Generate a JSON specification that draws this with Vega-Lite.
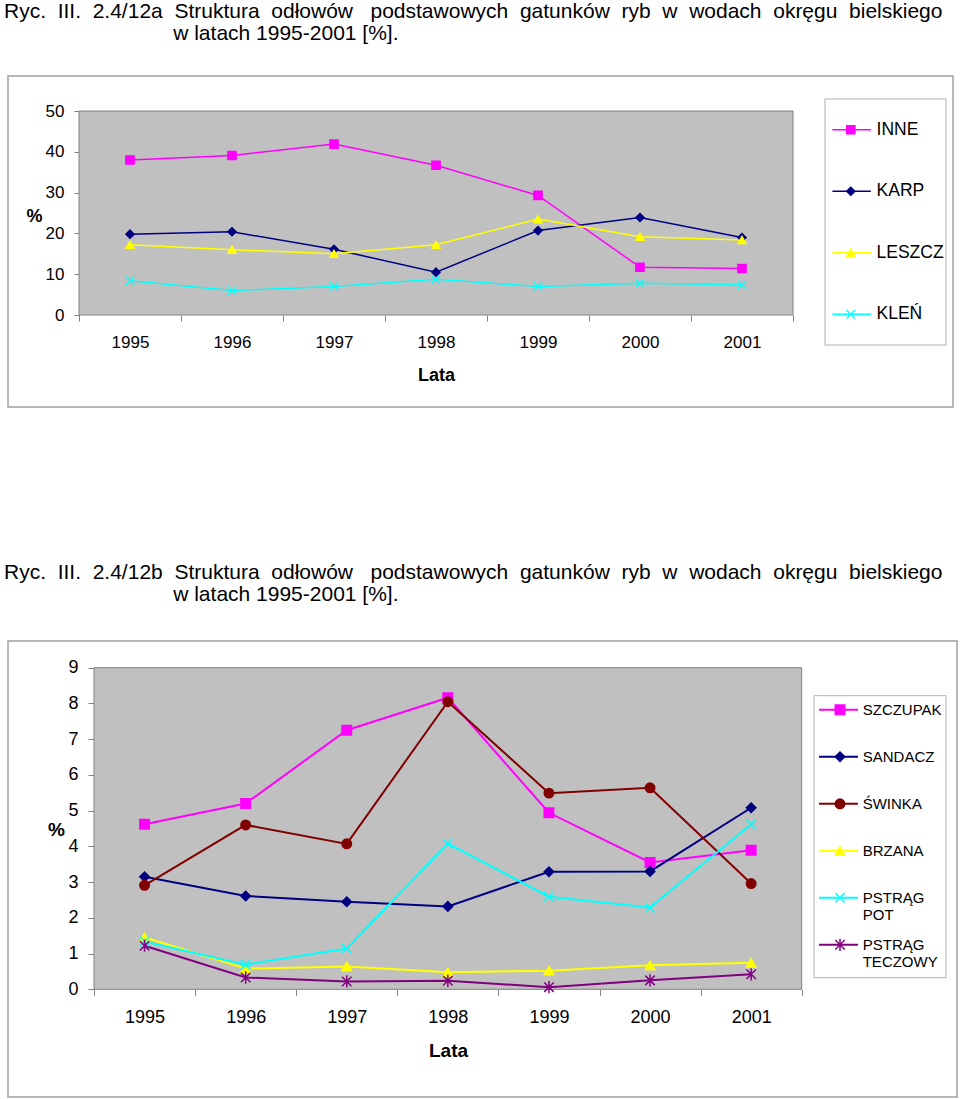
{
  "$schema": "https://vega.github.io/schema/vega-lite/v6.json",
  "padding": {"left": 3, "top": 0, "right": 0, "bottom": 0},
  "spacing": 153,
  "resolve": {"scale": {"color": "independent", "shape": "independent", "fill": "independent", "stroke": "independent"}},
  "config": {
    "font": "Liberation Sans",
    "view": {"stroke": "#a0a0a0", "strokeWidth": 1.5, "fill": "white"},
    "axis": {"labelFont": "Liberation Sans", "titleFont": "Liberation Sans", "labelColor": "black", "titleColor": "black", "grid": false, "domain": false, "tickColor": "#808080"},
    "title": {"anchor": "start", "fontSize": 21, "fontWeight": "normal", "font": "Liberation Sans", "color": "black", "lineHeight": 22, "dx": -4, "offset": 32, "baseline": "bottom"}
  },
  "datasets": {
    "a": [
      {"year": 1995, "series": "INNE", "value": 38.0}, {"year": 1996, "series": "INNE", "value": 39.1}, {"year": 1997, "series": "INNE", "value": 41.9}, {"year": 1998, "series": "INNE", "value": 36.7}, {"year": 1999, "series": "INNE", "value": 29.3}, {"year": 2000, "series": "INNE", "value": 11.7}, {"year": 2001, "series": "INNE", "value": 11.4},
      {"year": 1995, "series": "KARP", "value": 19.8}, {"year": 1996, "series": "KARP", "value": 20.4}, {"year": 1997, "series": "KARP", "value": 16.1}, {"year": 1998, "series": "KARP", "value": 10.5}, {"year": 1999, "series": "KARP", "value": 20.7}, {"year": 2000, "series": "KARP", "value": 23.9}, {"year": 2001, "series": "KARP", "value": 19.0},
      {"year": 1995, "series": "LESZCZ", "value": 17.2}, {"year": 1996, "series": "LESZCZ", "value": 16.0}, {"year": 1997, "series": "LESZCZ", "value": 15.0}, {"year": 1998, "series": "LESZCZ", "value": 17.2}, {"year": 1999, "series": "LESZCZ", "value": 23.5}, {"year": 2000, "series": "LESZCZ", "value": 19.2}, {"year": 2001, "series": "LESZCZ", "value": 18.4},
      {"year": 1995, "series": "KLEŃ", "value": 8.4}, {"year": 1996, "series": "KLEŃ", "value": 6.0}, {"year": 1997, "series": "KLEŃ", "value": 7.0}, {"year": 1998, "series": "KLEŃ", "value": 8.75}, {"year": 1999, "series": "KLEŃ", "value": 7.0}, {"year": 2000, "series": "KLEŃ", "value": 7.8}, {"year": 2001, "series": "KLEŃ", "value": 7.4}
    ],
    "b": [
      {"year": 1995, "series": "SZCZUPAK", "value": 4.62}, {"year": 1996, "series": "SZCZUPAK", "value": 5.2}, {"year": 1997, "series": "SZCZUPAK", "value": 7.25}, {"year": 1998, "series": "SZCZUPAK", "value": 8.16}, {"year": 1999, "series": "SZCZUPAK", "value": 4.94}, {"year": 2000, "series": "SZCZUPAK", "value": 3.55}, {"year": 2001, "series": "SZCZUPAK", "value": 3.89},
      {"year": 1995, "series": "SANDACZ", "value": 3.15}, {"year": 1996, "series": "SANDACZ", "value": 2.61}, {"year": 1997, "series": "SANDACZ", "value": 2.45}, {"year": 1998, "series": "SANDACZ", "value": 2.32}, {"year": 1999, "series": "SANDACZ", "value": 3.29}, {"year": 2000, "series": "SANDACZ", "value": 3.3}, {"year": 2001, "series": "SANDACZ", "value": 5.08},
      {"year": 1995, "series": "ŚWINKA", "value": 2.91}, {"year": 1996, "series": "ŚWINKA", "value": 4.6}, {"year": 1997, "series": "ŚWINKA", "value": 4.07}, {"year": 1998, "series": "ŚWINKA", "value": 8.05}, {"year": 1999, "series": "ŚWINKA", "value": 5.49}, {"year": 2000, "series": "ŚWINKA", "value": 5.64}, {"year": 2001, "series": "ŚWINKA", "value": 2.96},
      {"year": 1995, "series": "BRZANA", "value": 1.45}, {"year": 1996, "series": "BRZANA", "value": 0.58}, {"year": 1997, "series": "BRZANA", "value": 0.64}, {"year": 1998, "series": "BRZANA", "value": 0.48}, {"year": 1999, "series": "BRZANA", "value": 0.52}, {"year": 2000, "series": "BRZANA", "value": 0.67}, {"year": 2001, "series": "BRZANA", "value": 0.74},
      {"year": 1995, "series": "PSTRĄG POT", "value": 1.34}, {"year": 1996, "series": "PSTRĄG POT", "value": 0.69}, {"year": 1997, "series": "PSTRĄG POT", "value": 1.14}, {"year": 1998, "series": "PSTRĄG POT", "value": 4.08}, {"year": 1999, "series": "PSTRĄG POT", "value": 2.59}, {"year": 2000, "series": "PSTRĄG POT", "value": 2.29}, {"year": 2001, "series": "PSTRĄG POT", "value": 4.62},
      {"year": 1995, "series": "PSTRĄG TECZOWY", "value": 1.22}, {"year": 1996, "series": "PSTRĄG TECZOWY", "value": 0.33}, {"year": 1997, "series": "PSTRĄG TECZOWY", "value": 0.22}, {"year": 1998, "series": "PSTRĄG TECZOWY", "value": 0.24}, {"year": 1999, "series": "PSTRĄG TECZOWY", "value": 0.06}, {"year": 2000, "series": "PSTRĄG TECZOWY", "value": 0.25}, {"year": 2001, "series": "PSTRĄG TECZOWY", "value": 0.42}
    ],
    "legA": [
      {"series": "INNE", "label": "INNE"}, {"series": "KARP", "label": "KARP"}, {"series": "LESZCZ", "label": "LESZCZ"}, {"series": "KLEŃ", "label": "KLEŃ"}
    ],
    "legB": [
      {"series": "SZCZUPAK", "label": "SZCZUPAK"}, {"series": "SANDACZ", "label": "SANDACZ"}, {"series": "ŚWINKA", "label": "ŚWINKA"}, {"series": "BRZANA", "label": "BRZANA"}, {"series": "PSTRĄG POT", "label": "PSTRĄG\nPOT"}, {"series": "PSTRĄG TECZOWY", "label": "PSTRĄG\nTECZOWY"}
    ]
  },
  "vconcat": [
    {
      "width": 945,
      "height": 331,
      "title": {
        "text": [
          "Ryc.\u00a0\u00a0III.\u00a0\u00a02.4/12a\u00a0\u00a0Struktura\u00a0\u00a0odłowów\u00a0\u00a0\u00a0podstawowych\u00a0\u00a0gatunków\u00a0\u00a0ryb\u00a0\u00a0w\u00a0\u00a0wodach\u00a0\u00a0okręgu\u00a0\u00a0bielskiego",
          "\u200b\u00a0\u00a0\u00a0\u00a0\u00a0\u00a0\u00a0\u00a0\u00a0\u00a0\u00a0\u00a0\u00a0\u00a0\u00a0\u00a0\u00a0\u00a0\u00a0\u00a0\u00a0\u00a0\u00a0\u00a0\u00a0\u00a0\u00a0\u00a0\u00a0w latach 1995-2001 [%]."
        ]
      },
      "layer": [
        {
          "data": {"name": "a"},
          "layer": [
            {
              "data": {"values": [{}]},
              "mark": {"type": "rect", "fill": "#c0c0c0", "stroke": "#808080", "strokeWidth": 1},
              "encoding": {
                "x": {"datum": 1994.5, "type": "quantitative", "scale": {"domain": [1994.5, 2001.5], "range": [71, 785], "nice": false, "zero": false},
                  "axis": {"orient": "bottom", "title": "Lata", "values": [1994.5, 1995.5, 1996.5, 1997.5, 1998.5, 1999.5, 2000.5, 2001.5],
                    "labels": false, "offset": -92, "tickSize": 6,
                    "titleFontSize": 18, "titleFontWeight": "bold", "titleX": 428, "titleY": 60, "titleBaseline": "middle", "titleAlign": "center"}},
                "x2": {"datum": 2001.5},
                "y": {"datum": 0, "type": "quantitative", "scale": {"domain": [0, 50], "range": [239, 35], "nice": false, "zero": false},
                  "axis": {"title": "%", "values": [0, 10, 20, 30, 40, 50], "offset": -71, "tickSize": 5, "labelPadding": 10, "labelFontSize": 17,
                    "titleAngle": 0, "titleX": -45, "titleY": 140, "titleAlign": "center", "titleBaseline": "middle", "titleFontSize": 18, "titleFontWeight": "bold"}},
                "y2": {"datum": 50}
              }
            },
            {
              "mark": {"type": "line", "strokeWidth": 1.5},
              "encoding": {
                "x": {"field": "year", "type": "quantitative", "scale": {"domain": [1994.5, 2001.5], "range": [71, 785], "nice": false, "zero": false},
                  "axis": {"orient": "bottom", "title": null, "values": [1995, 1996, 1997, 1998, 1999, 2000, 2001], "format": "d", "offset": -92, "tickSize": 6, "tickOpacity": 0,
                    "labelPadding": 13, "labelFontSize": 17, "labelOverlap": false, "labelBound": false, "labelFlush": false}},
                "y": {"field": "value", "type": "quantitative", "scale": {"domain": [0, 50], "range": [239, 35], "nice": false, "zero": false}},
                "color": {"field": "series", "type": "nominal", "scale": {"domain": ["INNE", "KARP", "LESZCZ", "KLEŃ"], "range": ["#ff00ff", "#000080", "#ffff00", "#00ffff"]}, "legend": null}
              }
            },
            {
              "mark": {"type": "point", "filled": true, "size": 70, "strokeWidth": 1.3, "opacity": 1},
              "encoding": {
                "x": {"field": "year", "type": "quantitative", "scale": {"domain": [1994.5, 2001.5], "range": [71, 785], "nice": false, "zero": false}, "axis": null},
                "y": {"field": "value", "type": "quantitative", "scale": {"domain": [0, 50], "range": [239, 35], "nice": false, "zero": false}},
                "shape": {"field": "series", "type": "nominal", "scale": {"domain": ["INNE", "KARP", "LESZCZ", "KLEŃ"], "range": ["square", "diamond", "triangle-up", "M-1,-1L1,1M-1,1L1,-1"]}, "legend": null},
                "fill": {"field": "series", "type": "nominal", "scale": {"domain": ["INNE", "KARP", "LESZCZ", "KLEŃ"], "range": ["#ff00ff", "#000080", "#ffff00", "#00ffff"]}, "legend": null},
                "stroke": {"field": "series", "type": "nominal", "scale": {"domain": ["INNE", "KARP", "LESZCZ", "KLEŃ"], "range": ["#ff00ff", "#000080", "#ffff00", "#00ffff"]}, "legend": null}
              }
            }
          ],
          "resolve": {"axis": {"x": "independent"}}
        },
        {
          "data": {"values": [{}]},
          "mark": {"type": "rect", "fill": "white", "stroke": "#b0b0b0", "strokeWidth": 1},
          "encoding": {
            "x": {"datum": 0, "type": "quantitative", "scale": {"domain": [0, 1], "range": [817, 938], "nice": false, "zero": false}, "axis": null},
            "x2": {"datum": 1},
            "y": {"datum": 0, "type": "quantitative", "scale": {"domain": [0, 1], "range": [23, 269], "nice": false, "zero": false}, "axis": null},
            "y2": {"datum": 1}
          }
        },
        {
          "data": {"name": "legA"},
          "layer": [
            {
              "mark": {"type": "rule", "strokeWidth": 1.5},
              "encoding": {
                "x": {"datum": 0.061, "type": "quantitative", "scale": {"domain": [0, 1], "range": [817, 938], "nice": false, "zero": false}, "axis": null},
                "x2": {"datum": 0.379},
                "y": {"field": "series", "type": "nominal", "bandPosition": 0.5, "scale": {"type": "band", "domain": ["INNE", "KARP", "LESZCZ", "KLEŃ"], "range": [23, 269], "paddingInner": 0, "paddingOuter": 0}, "axis": null},
                "color": {"field": "series", "type": "nominal", "scale": {"domain": ["INNE", "KARP", "LESZCZ", "KLEŃ"], "range": ["#ff00ff", "#000080", "#ffff00", "#00ffff"]}, "legend": null}
              }
            },
            {
              "mark": {"type": "point", "filled": true, "size": 70, "strokeWidth": 1.3, "opacity": 1},
              "encoding": {
                "x": {"datum": 0.213, "type": "quantitative", "scale": {"domain": [0, 1], "range": [817, 938], "nice": false, "zero": false}, "axis": null},
                "y": {"field": "series", "type": "nominal", "bandPosition": 0.5, "scale": {"type": "band", "domain": ["INNE", "KARP", "LESZCZ", "KLEŃ"], "range": [23, 269], "paddingInner": 0, "paddingOuter": 0}, "axis": null},
                "shape": {"field": "series", "type": "nominal", "scale": {"domain": ["INNE", "KARP", "LESZCZ", "KLEŃ"], "range": ["square", "diamond", "triangle-up", "M-1,-1L1,1M-1,1L1,-1"]}, "legend": null},
                "fill": {"field": "series", "type": "nominal", "scale": {"domain": ["INNE", "KARP", "LESZCZ", "KLEŃ"], "range": ["#ff00ff", "#000080", "#ffff00", "#00ffff"]}, "legend": null},
                "stroke": {"field": "series", "type": "nominal", "scale": {"domain": ["INNE", "KARP", "LESZCZ", "KLEŃ"], "range": ["#ff00ff", "#000080", "#ffff00", "#00ffff"]}, "legend": null}
              }
            },
            {
              "mark": {"type": "text", "align": "left", "baseline": "middle", "fontSize": 17.5, "color": "black"},
              "encoding": {
                "x": {"datum": 0.426, "type": "quantitative", "scale": {"domain": [0, 1], "range": [817, 938], "nice": false, "zero": false}, "axis": null},
                "y": {"field": "series", "type": "nominal", "bandPosition": 0.5, "scale": {"type": "band", "domain": ["INNE", "KARP", "LESZCZ", "KLEŃ"], "range": [23, 269], "paddingInner": 0, "paddingOuter": 0}, "axis": null},
                "text": {"field": "label", "type": "nominal"}
              }
            }
          ]
        }
      ],
      "resolve": {"scale": {"x": "independent", "y": "independent"}, "axis": {"x": "independent", "y": "independent"}}
    },
    {
      "width": 949,
      "height": 456,
      "title": {
        "offset": 36,
        "text": [
          "Ryc.\u00a0\u00a0III.\u00a0\u00a02.4/12b\u00a0\u00a0Struktura\u00a0\u00a0odłowów\u00a0\u00a0\u00a0podstawowych\u00a0\u00a0gatunków\u00a0\u00a0ryb\u00a0\u00a0w\u00a0\u00a0wodach\u00a0\u00a0okręgu\u00a0\u00a0bielskiego",
          "\u200b\u00a0\u00a0\u00a0\u00a0\u00a0\u00a0\u00a0\u00a0\u00a0\u00a0\u00a0\u00a0\u00a0\u00a0\u00a0\u00a0\u00a0\u00a0\u00a0\u00a0\u00a0\u00a0\u00a0\u00a0\u00a0\u00a0\u00a0\u00a0\u00a0w latach 1995-2001 [%]."
        ]
      },
      "layer": [
        {
          "data": {"name": "b"},
          "layer": [
            {
              "data": {"values": [{}]},
              "mark": {"type": "rect", "fill": "#c0c0c0", "stroke": "#808080", "strokeWidth": 1},
              "encoding": {
                "x": {"datum": 1994.5, "type": "quantitative", "scale": {"domain": [1994.5, 2001.5], "range": [86, 793.7], "nice": false, "zero": false},
                  "axis": {"orient": "bottom", "title": "Lata", "values": [1994.5, 1995.5, 1996.5, 1997.5, 1998.5, 1999.5, 2000.5, 2001.5],
                    "labels": false, "offset": -107.7, "tickSize": 6,
                    "titleFontSize": 19, "titleFontWeight": "bold", "titleX": 440, "titleY": 61, "titleBaseline": "middle", "titleAlign": "center"}},
                "x2": {"datum": 2001.5},
                "y": {"datum": 0, "type": "quantitative", "scale": {"domain": [0, 9], "range": [348.3, 26.7], "nice": false, "zero": false},
                  "axis": {"title": "%", "values": [0, 1, 2, 3, 4, 5, 6, 7, 8, 9], "offset": -86, "tickSize": 6, "labelPadding": 10, "labelFontSize": 18,
                    "titleAngle": 0, "titleX": -38, "titleY": 188, "titleAlign": "center", "titleBaseline": "middle", "titleFontSize": 19, "titleFontWeight": "bold"}},
                "y2": {"datum": 9}
              }
            },
            {
              "mark": {"type": "line", "strokeWidth": 2},
              "encoding": {
                "x": {"field": "year", "type": "quantitative", "scale": {"domain": [1994.5, 2001.5], "range": [86, 793.7], "nice": false, "zero": false},
                  "axis": {"orient": "bottom", "title": null, "values": [1995, 1996, 1997, 1998, 1999, 2000, 2001], "format": "d", "offset": -107.7, "tickSize": 6, "tickOpacity": 0,
                    "labelPadding": 13, "labelFontSize": 18, "labelOverlap": false, "labelBound": false, "labelFlush": false}},
                "y": {"field": "value", "type": "quantitative", "scale": {"domain": [0, 9], "range": [348.3, 26.7], "nice": false, "zero": false}},
                "color": {"field": "series", "type": "nominal", "scale": {"domain": ["SZCZUPAK", "SANDACZ", "ŚWINKA", "BRZANA", "PSTRĄG POT", "PSTRĄG TECZOWY"], "range": ["#ff00ff", "#000080", "#800000", "#ffff00", "#00ffff", "#800080"]}, "legend": null}
              }
            },
            {
              "mark": {"type": "point", "filled": true, "size": 90, "strokeWidth": 1.5, "opacity": 1},
              "encoding": {
                "x": {"field": "year", "type": "quantitative", "scale": {"domain": [1994.5, 2001.5], "range": [86, 793.7], "nice": false, "zero": false}, "axis": null},
                "y": {"field": "value", "type": "quantitative", "scale": {"domain": [0, 9], "range": [348.3, 26.7], "nice": false, "zero": false}},
                "shape": {"field": "series", "type": "nominal", "scale": {"domain": ["SZCZUPAK", "SANDACZ", "ŚWINKA", "BRZANA", "PSTRĄG POT", "PSTRĄG TECZOWY"], "range": ["square", "diamond", "circle", "triangle-up", "M-1,-1L1,1M-1,1L1,-1", "M-1,-1L1,1M-1,1L1,-1M0,-1.3L0,1.3"]}, "legend": null},
                "fill": {"field": "series", "type": "nominal", "scale": {"domain": ["SZCZUPAK", "SANDACZ", "ŚWINKA", "BRZANA", "PSTRĄG POT", "PSTRĄG TECZOWY"], "range": ["#ff00ff", "#000080", "#800000", "#ffff00", "#00ffff", "#800080"]}, "legend": null},
                "stroke": {"field": "series", "type": "nominal", "scale": {"domain": ["SZCZUPAK", "SANDACZ", "ŚWINKA", "BRZANA", "PSTRĄG POT", "PSTRĄG TECZOWY"], "range": ["#ff00ff", "#000080", "#800000", "#ffff00", "#00ffff", "#800080"]}, "legend": null}
              }
            }
          ],
          "resolve": {"axis": {"x": "independent"}}
        },
        {
          "data": {"values": [{}]},
          "mark": {"type": "rect", "fill": "white", "stroke": "#b0b0b0", "strokeWidth": 1},
          "encoding": {
            "x": {"datum": 0, "type": "quantitative", "scale": {"domain": [0, 1], "range": [806, 938], "nice": false, "zero": false}, "axis": null},
            "x2": {"datum": 1},
            "y": {"datum": 0, "type": "quantitative", "scale": {"domain": [0, 1], "range": [54.7, 336.7], "nice": false, "zero": false}, "axis": null},
            "y2": {"datum": 1}
          }
        },
        {
          "data": {"name": "legB"},
          "layer": [
            {
              "mark": {"type": "rule", "strokeWidth": 2},
              "encoding": {
                "x": {"datum": 0.038, "type": "quantitative", "scale": {"domain": [0, 1], "range": [806, 938], "nice": false, "zero": false}, "axis": null},
                "x2": {"datum": 0.333},
                "y": {"field": "series", "type": "nominal", "bandPosition": 0.3, "scale": {"type": "band", "domain": ["SZCZUPAK", "SANDACZ", "ŚWINKA", "BRZANA", "PSTRĄG POT", "PSTRĄG TECZOWY"], "range": [54.7, 336.7], "paddingInner": 0, "paddingOuter": 0}, "axis": null},
                "color": {"field": "series", "type": "nominal", "scale": {"domain": ["SZCZUPAK", "SANDACZ", "ŚWINKA", "BRZANA", "PSTRĄG POT", "PSTRĄG TECZOWY"], "range": ["#ff00ff", "#000080", "#800000", "#ffff00", "#00ffff", "#800080"]}, "legend": null}
              }
            },
            {
              "mark": {"type": "point", "filled": true, "size": 90, "strokeWidth": 1.5, "opacity": 1},
              "encoding": {
                "x": {"datum": 0.197, "type": "quantitative", "scale": {"domain": [0, 1], "range": [806, 938], "nice": false, "zero": false}, "axis": null},
                "y": {"field": "series", "type": "nominal", "bandPosition": 0.3, "scale": {"type": "band", "domain": ["SZCZUPAK", "SANDACZ", "ŚWINKA", "BRZANA", "PSTRĄG POT", "PSTRĄG TECZOWY"], "range": [54.7, 336.7], "paddingInner": 0, "paddingOuter": 0}, "axis": null},
                "shape": {"field": "series", "type": "nominal", "scale": {"domain": ["SZCZUPAK", "SANDACZ", "ŚWINKA", "BRZANA", "PSTRĄG POT", "PSTRĄG TECZOWY"], "range": ["square", "diamond", "circle", "triangle-up", "M-1,-1L1,1M-1,1L1,-1", "M-1,-1L1,1M-1,1L1,-1M0,-1.3L0,1.3"]}, "legend": null},
                "fill": {"field": "series", "type": "nominal", "scale": {"domain": ["SZCZUPAK", "SANDACZ", "ŚWINKA", "BRZANA", "PSTRĄG POT", "PSTRĄG TECZOWY"], "range": ["#ff00ff", "#000080", "#800000", "#ffff00", "#00ffff", "#800080"]}, "legend": null},
                "stroke": {"field": "series", "type": "nominal", "scale": {"domain": ["SZCZUPAK", "SANDACZ", "ŚWINKA", "BRZANA", "PSTRĄG POT", "PSTRĄG TECZOWY"], "range": ["#ff00ff", "#000080", "#800000", "#ffff00", "#00ffff", "#800080"]}, "legend": null}
              }
            },
            {
              "mark": {"type": "text", "align": "left", "baseline": "top", "dy": -6.5, "fontSize": 15, "lineHeight": 17, "lineBreak": "\n", "color": "black"},
              "encoding": {
                "x": {"datum": 0.369, "type": "quantitative", "scale": {"domain": [0, 1], "range": [806, 938], "nice": false, "zero": false}, "axis": null},
                "y": {"field": "series", "type": "nominal", "bandPosition": 0.3, "scale": {"type": "band", "domain": ["SZCZUPAK", "SANDACZ", "ŚWINKA", "BRZANA", "PSTRĄG POT", "PSTRĄG TECZOWY"], "range": [54.7, 336.7], "paddingInner": 0, "paddingOuter": 0}, "axis": null},
                "text": {"field": "label", "type": "nominal"}
              }
            }
          ]
        }
      ],
      "resolve": {"scale": {"x": "independent", "y": "independent"}, "axis": {"x": "independent", "y": "independent"}}
    }
  ]
}
